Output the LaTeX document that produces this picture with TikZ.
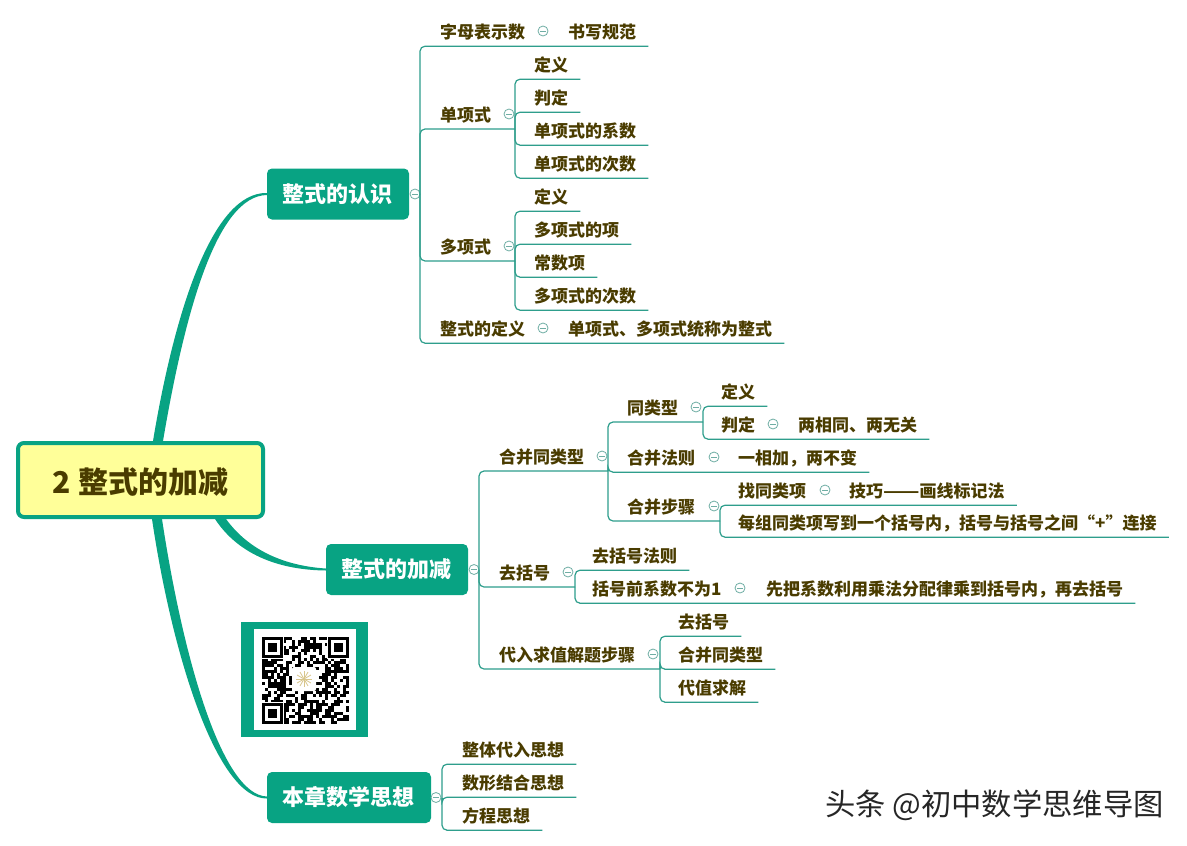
\documentclass[tikz,border=0pt]{standalone}
\usepackage{fontspec}
\setmainfont{Noto Sans CJK SC}
\usetikzlibrary{positioning,calc}
\definecolor{mapgreen}{HTML}{08A383}
\definecolor{linegreen}{HTML}{2E9E8C}
\definecolor{foldgray}{HTML}{6FAEA4}
\definecolor{inkolive}{HTML}{4A3C00}
\definecolor{rootyellow}{HTML}{FFFF99}
\definecolor{logotan}{HTML}{D8C68C}

\begin{document}
\begin{tikzpicture}[x=1pt,y=-1pt]
    \tikzstyle{rootbox} = [draw=mapgreen,fill=rootyellow,line width=4pt,rounded corners=6pt,minimum width=245pt,minimum height=74pt,inner sep=0pt,text height=27pt,text depth=0pt,text=inkolive,font=\fontsize{30}{34}\selectfont\bfseries]
    \tikzstyle{mainbox} = [fill=mapgreen,rounded corners=5pt,minimum height=51pt,inner sep=0pt,text=white,font=\fontsize{22}{26}\selectfont\bfseries]
    \tikzstyle{leaf} = [anchor=west,xshift=-12pt,inner xsep=12pt,inner ysep=7pt,text height=15pt,text depth=1pt,text=inkolive,font=\fontsize{17}{20}\selectfont\bfseries]
    \tikzstyle{fold} = [circle,draw=foldgray,line width=.8pt,minimum size=10pt,inner sep=0pt,path picture={\draw[foldgray,line width=.8pt] ([xshift=-3pt]path picture bounding box.center) -- ([xshift=3pt]path picture bounding box.center);}]
    \tikzstyle{branch} = [linegreen,line width=1.2pt,rounded corners=5pt]
    \tikzstyle{stem} = [fill=mapgreen,draw=none]
    \useasboundingbox (0,0) rectangle (1187,846);
      \fill[white] (0,0) rectangle (1187,846);
      \node[rootbox] (root) at (140.5,480) {2 整式的加减};
      \node[mainbox,minimum width=142pt] (recog) at (338,194) {\hspace{-1pt}整式的认识};
      \node[mainbox,minimum width=142pt] (addsub) at (397,569.5) {\hspace{-1pt}整式的加减};
      \node[mainbox,minimum width=164pt] (ideas) at (349,797.5) {\hspace{-1pt}本章数学思想};
      \fill[stem] ([xshift=12.5pt]root.north) .. controls (175,309) and (213,192) .. ([yshift=1pt]recog.west) -- ([yshift=-1pt]recog.west) .. controls (217,196) and (185,311) .. ([xshift=22.5pt]root.north) -- cycle;
      \fill[stem] ([xshift=74.5pt]root.south) .. controls (240,557) and (283,570) .. ([yshift=-1pt]addsub.west) -- ([yshift=1pt]addsub.west) .. controls (287,566) and (250,552) .. ([xshift=85.5pt]root.south) -- cycle;
      \fill[stem] ([xshift=11.5pt]root.south) .. controls (173,660) and (218,799) .. ([yshift=-1pt]ideas.west) -- ([yshift=1pt]ideas.west) .. controls (222,795) and (183,658) .. ([xshift=21.5pt]root.south) -- cycle;
      % first main topic
      \node[fold] (foldRecog) at (415,194) {};
      \coordinate (hubRecog) at (420,194);
      \node[leaf] (letters) at (440,31) {字母表示数};
      \node[fold] (foldLetters) at (543,31) {};
      \node[leaf] (writing) at (568,31) {书写规范};
      \node[leaf] (mono) at (440,114) {单项式};
      \node[fold] (foldMono) at (509,114) {};
      \coordinate (hubMono) at (515,129);
      \node[leaf] (monoDef) at (534,64) {定义};
      \node[leaf] (monoJudge) at (534,97) {判定};
      \node[leaf] (monoCoef) at (534,130) {单项式的系数};
      \node[leaf] (monoDeg) at (534,163) {单项式的次数};
      \node[leaf] (poly) at (440,246) {多项式};
      \node[fold] (foldPoly) at (509,246) {};
      \coordinate (hubPoly) at (515,261);
      \node[leaf] (polyDef) at (534,196) {定义};
      \node[leaf] (polyTerm) at (534,229) {多项式的项};
      \node[leaf] (polyConst) at (534,262) {常数项};
      \node[leaf] (polyDeg) at (534,295) {多项式的次数};
      \node[leaf] (intDef) at (440,328) {整式的定义};
      \node[fold] (foldIntDef) at (543,328) {};
      \node[leaf] (intText) at (568,328) {单项式、多项式统称为整式};
      \foreach \t in {(writing.south east),(hubMono),(hubPoly),(intText.south east)} \draw[branch] (hubRecog) |- \t;
      \foreach \t in {monoDef,monoJudge,monoCoef,monoDeg} \draw[branch] (hubMono) |- (\t.south east);
      \foreach \t in {polyDef,polyTerm,polyConst,polyDeg} \draw[branch] (hubPoly) |- (\t.south east);
      % second main topic
      \node[fold] (foldAddsub) at (474,569.5) {};
      \coordinate (hubAddsub) at (479,569.5);
      \node[leaf] (merge) at (499,456) {合并同类型};
      \node[fold] (foldMerge) at (602,456) {};
      \coordinate (hubMerge) at (608,471);
      \node[leaf] (like) at (627,407) {同类型};
      \node[fold] (foldLike) at (696,407) {};
      \coordinate (hubLike) at (703,422);
      \node[leaf] (likeDef) at (721,391) {定义};
      \node[leaf] (likeJudge) at (721,424) {判定};
      \node[fold] (foldJudge) at (773,424) {};
      \node[leaf] (likeText) at (798,424) {两相同、两无关};
      \node[leaf] (rule) at (627,457) {合并法则};
      \node[fold] (foldRule) at (714,457) {};
      \node[leaf] (ruleText) at (738,457) {一相加，两不变};
      \node[leaf] (steps) at (627,506) {合并步骤};
      \node[fold] (foldSteps) at (714,506) {};
      \coordinate (hubSteps) at (720,521);
      \node[leaf] (find) at (738,490) {找同类项};
      \node[fold] (foldFind) at (825,490) {};
      \node[leaf] (findText) at (849,490) {技巧\scalebox{1.25}[1]{——}画线标记法};
      \node[leaf] (group) at (738,522) {每组同类项写到一个括号内，括号与括号之间“+”连接};
      \node[leaf] (paren) at (499,572) {去括号};
      \node[fold] (foldParen) at (568,572) {};
      \coordinate (hubParen) at (575,587);
      \node[leaf] (parenRule) at (592,555) {去括号法则};
      \node[leaf] (parenCoef) at (592,588) {括号前系数不为1};
      \node[fold] (foldCoef) at (740,588) {};
      \node[leaf] (coefText) at (766,588) {先把系数利用乘法分配律乘到括号内，再去括号};
      \node[leaf] (subst) at (499,654) {代入求值解题步骤};
      \node[fold] (foldSubst) at (653,654) {};
      \coordinate (hubSubst) at (660,669);
      \node[leaf] (substA) at (678,621) {去括号};
      \node[leaf] (substB) at (678,654) {合并同类型};
      \node[leaf] (substC) at (678,687) {代值求解};
      \foreach \t in {(hubMerge),(hubParen),(hubSubst)} \draw[branch] (hubAddsub) |- \t;
      \foreach \t in {(hubLike),(ruleText.south east),(hubSteps)} \draw[branch] (hubMerge) |- \t;
      \foreach \t in {(likeDef.south east),(likeText.south east)} \draw[branch] (hubLike) |- \t;
      \foreach \t in {(findText.south east),(group.south east)} \draw[branch] (hubSteps) |- \t;
      \foreach \t in {(parenRule.south east),(coefText.south east)} \draw[branch] (hubParen) |- \t;
      \foreach \t in {substA,substB,substC} \draw[branch] (hubSubst) |- (\t.south east);
      % third main topic
      \node[fold] (foldIdeas) at (436,797.5) {};
      \coordinate (hubIdeas) at (442,797.5);
      \node[leaf] (ideaA) at (462,749) {整体代入思想};
      \node[leaf] (ideaB) at (462,782) {数形结合思想};
      \node[leaf] (ideaC) at (462,815) {方程思想};
      \foreach \t in {ideaA,ideaB,ideaC} \draw[branch] (hubIdeas) |- (\t.south east);
      % code picture
      \fill[mapgreen] (241,622) rectangle (368,737);
      \fill[white] (254,629) rectangle (356,730);
      \pgfmathsetseed{2718}
      \foreach \i in {0,...,28} \foreach \j in {0,...,28} {
        \pgfmathrandominteger{\m}{0}{99}
        \ifnum\m<56 \fill[black] (262+3*\i,637+3*\j) rectangle ++(3.05,3.05); \fi
      }
      \foreach \qx/\qy in {262/637,328/637,262/703} {
        \fill[white] (\qx-1,\qy-1) rectangle ++(23,23);
        \fill[black] (\qx,\qy) rectangle ++(21,21);
        \fill[white] (\qx+3,\qy+3) rectangle ++(15,15);
        \fill[black] (\qx+6,\qy+6) rectangle ++(9,9);
      }
      \fill[white,rounded corners=2pt] (292,667) rectangle (316,691);
      \foreach \a in {0,30,...,330} \draw[logotan,line width=.8pt] (304,679) -- ++(\a:8);
      % watermark
      \node[anchor=west,inner sep=0pt,text=black!85,font=\fontsize{30.3}{34}\selectfont] (mark) at (825,805) {头条 @初中数学思维导图};
  \end{tikzpicture}
\end{document}
